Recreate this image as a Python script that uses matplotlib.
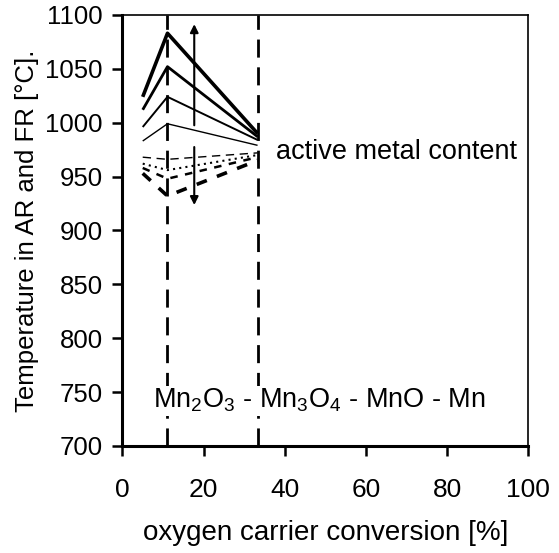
import numpy as np
import matplotlib
matplotlib.use("Agg")
import matplotlib.pyplot as plt

plt.rcParams.update({
    "font.family": "Liberation Sans", "font.size": 19,
    "axes.edgecolor": "black", "axes.linewidth": 1.2,
    "mathtext.fontset": "custom", "mathtext.rm": "Liberation Sans",
    "mathtext.it": "Liberation Sans", "mathtext.default": "regular",
})

# conversion points: start, Mn2O3 -> Mn3O4 step, Mn3O4 -> MnO step
conversion = [5.0, 11.1, 33.3]
phase_steps = [11.1, 33.3]

# temperatures, solid group (upper) and dashed group (lower)
t_solid = [
    [1024, 1083, 990],
    [1012, 1052, 987],
    [996, 1024, 984],
    [983, 999, 979],
]
t_dashed = [
    [968, 966, 972],
    [962, 956, 970],
    [958, 948, 968],
    [953, 932, 965],
]

solid_lw = [2.6, 2.0, 1.4, 1.0]
dashed_styles = [
    dict(lw=1.0, ls=(0, (6, 4))),
    dict(lw=1.5, ls=(0, (1, 2))),
    dict(lw=1.8, ls=(0, (3, 3))),
    dict(lw=2.6, ls=(0, (3, 3))),
]

fig = plt.figure(figsize=(5.59, 5.53), dpi=100)
ax = fig.add_axes([0.219, 0.1935, 0.726, 0.7795])

for t, lw in zip(t_solid, solid_lw):
    ax.plot(conversion, t, color="black", lw=lw, solid_capstyle="butt")
for t, st in zip(t_dashed, dashed_styles):
    ax.plot(conversion, t, color="black", **st)

for x in phase_steps:
    ax.axvline(x, color="black", lw=2.0, ls=(0, (6.5, 3.5)))

# double arrow for increasing active metal content
ax.annotate("", xy=(17.7, 1094), xytext=(17.7, 995),
            arrowprops=dict(arrowstyle="-|>", color="black", lw=1.5, mutation_scale=12))
ax.annotate("", xy=(17.7, 921), xytext=(17.7, 980),
            arrowprops=dict(arrowstyle="-|>", color="black", lw=1.5, mutation_scale=12))

ax.text(37.8, 973, "active metal content", fontsize=19.5, va="center", ha="left")
ax.text(48.6, 742, r"Mn$_2$O$_3$ - Mn$_3$O$_4$ - MnO - Mn", fontsize=19.5,
        va="center", ha="center",
        bbox=dict(facecolor="white", edgecolor="none", pad=1))

ax.set_xlim(0, 100)
ax.set_ylim(700, 1100)
ax.set_xticks(range(0, 101, 20))
ax.set_yticks(range(700, 1101, 50))
ax.tick_params(direction="out", length=7, width=1.8, labelsize=18.5, pad=7)
ax.tick_params(axis="x", pad=16, labelsize=19)
ax.spines["left"].set_linewidth(2.2)
ax.spines["bottom"].set_linewidth(2.2)

ax.set_xlabel("oxygen carrier conversion [%]", fontsize=20, labelpad=13)
ax.set_ylabel("Temperature in AR and FR [°C].", fontsize=18.5, labelpad=5)

fig.savefig("out.png", dpi=100)
